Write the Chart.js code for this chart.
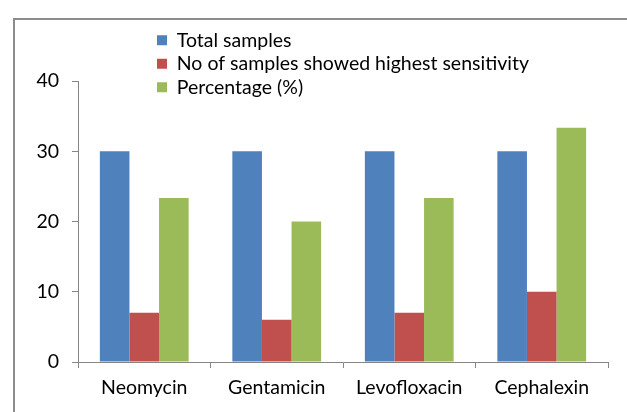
<!DOCTYPE html>
<html>
<head>
<meta charset="utf-8">
<script src="https://cdn.jsdelivr.net/npm/chart.js@4/dist/chart.umd.min.js"></script>
<style>
html,body{margin:0;padding:0;background:#fff;width:627px;height:412px;overflow:hidden;}
#frame{position:absolute;left:13px;top:18px;width:700px;height:500px;border:2px solid #8c8c8c;box-sizing:border-box;}
#wrap{position:absolute;left:0;top:0;width:627px;height:412px;}
</style>
</head>
<body>
<div id="frame"></div>
<div id="wrap"><canvas id="c" width="627" height="412"></canvas></div>
<script>
const categories = ["Neomycin", "Gentamicin", "Levofloxacin", "Cephalexin"];
const totalSamples = [30, 30, 30, 30];
const highestSensitivity = [7, 6, 7, 10];
const percentage = [23.33, 20, 23.33, 33.33];
const seriesNames = ["Total samples", "No of samples showed highest sensitivity", "Percentage (%)"];
const seriesColors = ["#4F81BD", "#C0504D", "#9BBB59"];
const yTicks = [0, 10, 20, 30, 40];

const FONT = "Lato";
const FSIZE = 19.5;

const legendMover = {
  id: "legendMover",
  afterLayout(chart) {
    const lg = chart.legend;
    if (!lg) return;
    const w = lg.width, h = lg.height;
    lg.left = 153; lg.top = 26.5;
    lg.right = lg.left + w; lg.bottom = lg.top + h;
  }
};

new Chart(document.getElementById("c"), {
  type: "bar",
  data: {
    labels: categories,
    datasets: [
      { label: seriesNames[0], data: totalSamples, backgroundColor: seriesColors[0] },
      { label: seriesNames[1], data: highestSensitivity, backgroundColor: seriesColors[1] },
      { label: seriesNames[2], data: percentage, backgroundColor: seriesColors[2] }
    ]
  },
  options: {
    responsive: false,
    animation: false,
    devicePixelRatio: 1,
    layout: { padding: { top: 81, right: 19, bottom: 0, left: 0 } },
    datasets: { bar: { categoryPercentage: 0.67, barPercentage: 1.0 } },
    plugins: {
      legend: {
        position: "chartArea",
        align: "start",
        labels: {
          boxWidth: 10, boxHeight: 10, padding: 4,
          color: "#000",
          font: { family: FONT, size: FSIZE }
        }
      },
      tooltip: { enabled: false }
    },
    scales: {
      x: {
        afterFit(s) { s.height = 50; },
        grid: { display: true, drawOnChartArea: false, tickLength: 6, color: "#868686", offset: true },
        border: { color: "#868686", width: 1 },
        ticks: { color: "#000", padding: 8, font: { family: FONT, size: FSIZE } }
      },
      y: {
        min: 0, max: 40,
        afterFit(s) { s.width = 78; },
        afterBuildTicks(s) { s.ticks = yTicks.map(v => ({ value: v })); },
        grid: { display: true, drawOnChartArea: false, tickLength: 6, color: "#868686" },
        border: { color: "#868686", width: 1 },
        ticks: { color: "#000", padding: 13, font: { family: FONT, size: FSIZE } }
      }
    }
  },
  plugins: [legendMover]
});
</script>
</body>
</html>
